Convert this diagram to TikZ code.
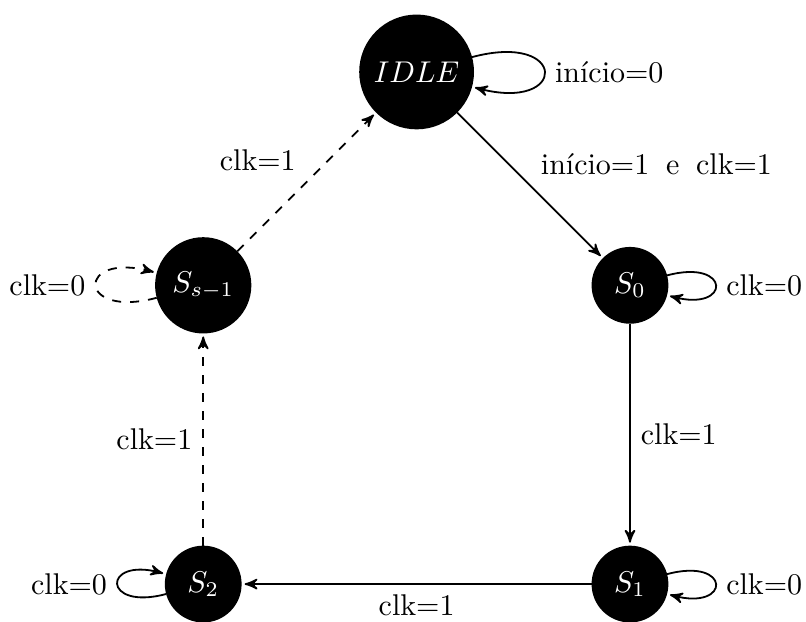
\documentclass[tikz,border=0pt]{standalone}
\usetikzlibrary{arrows,automata}
\begin{document}
\begin{tikzpicture}[->,>=stealth',shorten >=1pt,auto,semithick,
  st/.style={circle,draw=black,fill=black,text=white,minimum size=2.5em},
  every loop/.style={looseness=8.6}]
  \useasboundingbox (-4.881,0.843) rectangle (4.562,-6.443);

  % states
  \node[st] (idle) at (0,0)       {$IDLE$};
  \node[st] (s0)   at (2.5,-2.5)  {$S_0$};
  \node[st] (ss)   at (-2.5,-2.5) {$S_{s-1}$};
  \node[st] (s1)   at (2.5,-6)    {$S_1$};
  \node[st] (s2)   at (-2.5,-6)   {$S_2$};

  % transitions
  \path (idle) edge[loop right] node {início=0} ()
               edge node {início=1\hspace{5.6pt}e\hspace{5.6pt}clk=1} (s0)
        (s0)   edge[loop right] node {clk=0} ()
               edge node {clk=1} (s1)
        (s1)   edge[loop right] node {clk=0} ()
               edge node {clk=1} (s2)
        (s2)   edge[loop left] node {clk=0} ()
               edge[dashed] node {clk=1} (ss)
        (ss)   edge[loop left,dashed] node {clk=0} ()
               edge[dashed] node {clk=1} (idle);
\end{tikzpicture}
\end{document}
